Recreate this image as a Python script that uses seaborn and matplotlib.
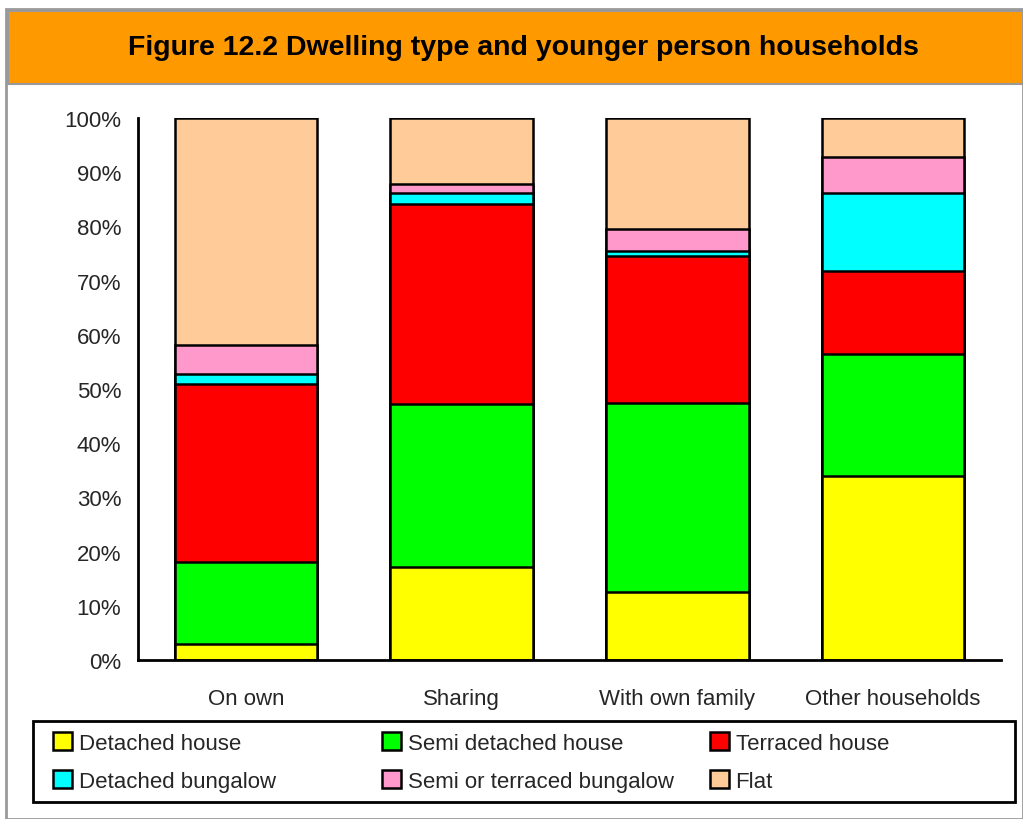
import matplotlib
matplotlib.use("Agg")
import matplotlib.pyplot as plt
import seaborn as sns
import pandas as pd
import numpy as np
from matplotlib.patches import Patch, Rectangle

categories = ["On own", "Sharing", "With own family", "Other households"]
series_names = ["Detached house", "Semi detached house", "Terraced house",
                "Detached bungalow", "Semi or terraced bungalow", "Flat"]
detached_house = [3.0, 17.2, 12.5, 33.9]
semi_detached_house = [15.0, 30.0, 34.9, 22.6]
terraced_house = [33.0, 36.9, 27.1, 15.3]
detached_bungalow = [1.8, 2.1, 1.0, 14.4]
semi_terraced_bungalow = [5.3, 1.6, 4.0, 6.6]
flat = [41.9, 12.2, 20.5, 7.2]
colors = ["#FFFF00", "#00FF00", "#FF0000", "#00FFFF", "#FF99CC", "#FFCC99"]
yticklabels = ["0%", "10%", "20%", "30%", "40%", "50%", "60%", "70%", "80%", "90%", "100%"]

sns.set_theme(style="white")
plt.rcParams["font.family"] = ["Liberation Sans", "DejaVu Sans"]

series = [detached_house, semi_detached_house, terraced_house,
          detached_bungalow, semi_terraced_bungalow, flat]
cum = np.cumsum(np.array(series), axis=0)

fig = plt.figure(figsize=(10.23, 8.2), dpi=100)
ax = fig.add_axes([138/1023, 1-661/820, (1001-138)/1023, (661-119)/820])

# draw cumulative bars from top series down so lower ones overlay
for i in range(len(series) - 1, -1, -1):
    df = pd.DataFrame({"cat": categories, "val": cum[i]})
    sns.barplot(data=df, x="cat", y="val", ax=ax, color=colors[i],
                saturation=1, width=0.66, edgecolor="black", linewidth=1.8,
                order=categories)

ax.set_xlim(-0.5, 3.5)
ax.set_ylim(0, 100)
ax.set_xlabel("")
ax.set_ylabel("")
ax.set_yticks(np.arange(0, 101, 10))
ax.set_yticklabels(yticklabels, fontsize=16)
ax.set_xticks(range(len(categories)))
ax.set_xticklabels(categories, fontsize=16)
ax.tick_params(axis="x", which="major", length=0, pad=20)
ax.set_xticks([0.5, 1.5, 2.5, 3.5], minor=True)
ax.tick_params(axis="x", which="minor", length=7, width=2, color="black", direction="out")
ax.tick_params(axis="y", which="major", length=7, width=2, color="black", direction="out", pad=5)
for s in ["top", "right"]:
    ax.spines[s].set_visible(False)
for s in ["left", "bottom"]:
    ax.spines[s].set_color("black")
    ax.spines[s].set_linewidth(2)
ax.grid(False)

# figure frame and title bar
fig.patches.append(Rectangle((6/1023, 0), 1 - 6/1023, 1 - 10/820, transform=fig.transFigure,
                             facecolor="none", edgecolor="#999999", linewidth=2, zorder=0))
fig.patches.append(Rectangle((8/1023, 1 - 85/820), 1 - 8/1023, (85-12)/820, transform=fig.transFigure,
                             facecolor="#FF9900", edgecolor="#999999", linewidth=1.5, zorder=1))
fig.text(523/1023, 1 - 48/820, "Figure 12.2 Dwelling type and younger person households",
         ha="center", va="center", fontsize=20.5, fontweight="bold", color="black")

# legend frame
fig.patches.append(Rectangle((33/1023, 1 - 803/820), (1015-33)/1023, (803-722)/820,
                             transform=fig.transFigure, facecolor="white",
                             edgecolor="black", linewidth=2, zorder=2))
handles = [Patch(facecolor=colors[i], edgecolor="black", linewidth=1.8, label=series_names[i])
           for i in range(6)]
col_x = [53, 382, 710]
for j in range(3):
    idx = [j, j + 3]
    leg = fig.legend([handles[i] for i in idx], [series_names[i] for i in idx],
                     loc="center left", bbox_to_anchor=(col_x[j]/1023, 1 - 763/820),
                     fontsize=16, frameon=False, handlelength=0.85, handleheight=0.85,
                     handletextpad=0.3, borderpad=0, labelspacing=0.75, borderaxespad=0)
    leg.set_zorder(3)

fig.savefig("out.png", dpi=100, facecolor="white")
